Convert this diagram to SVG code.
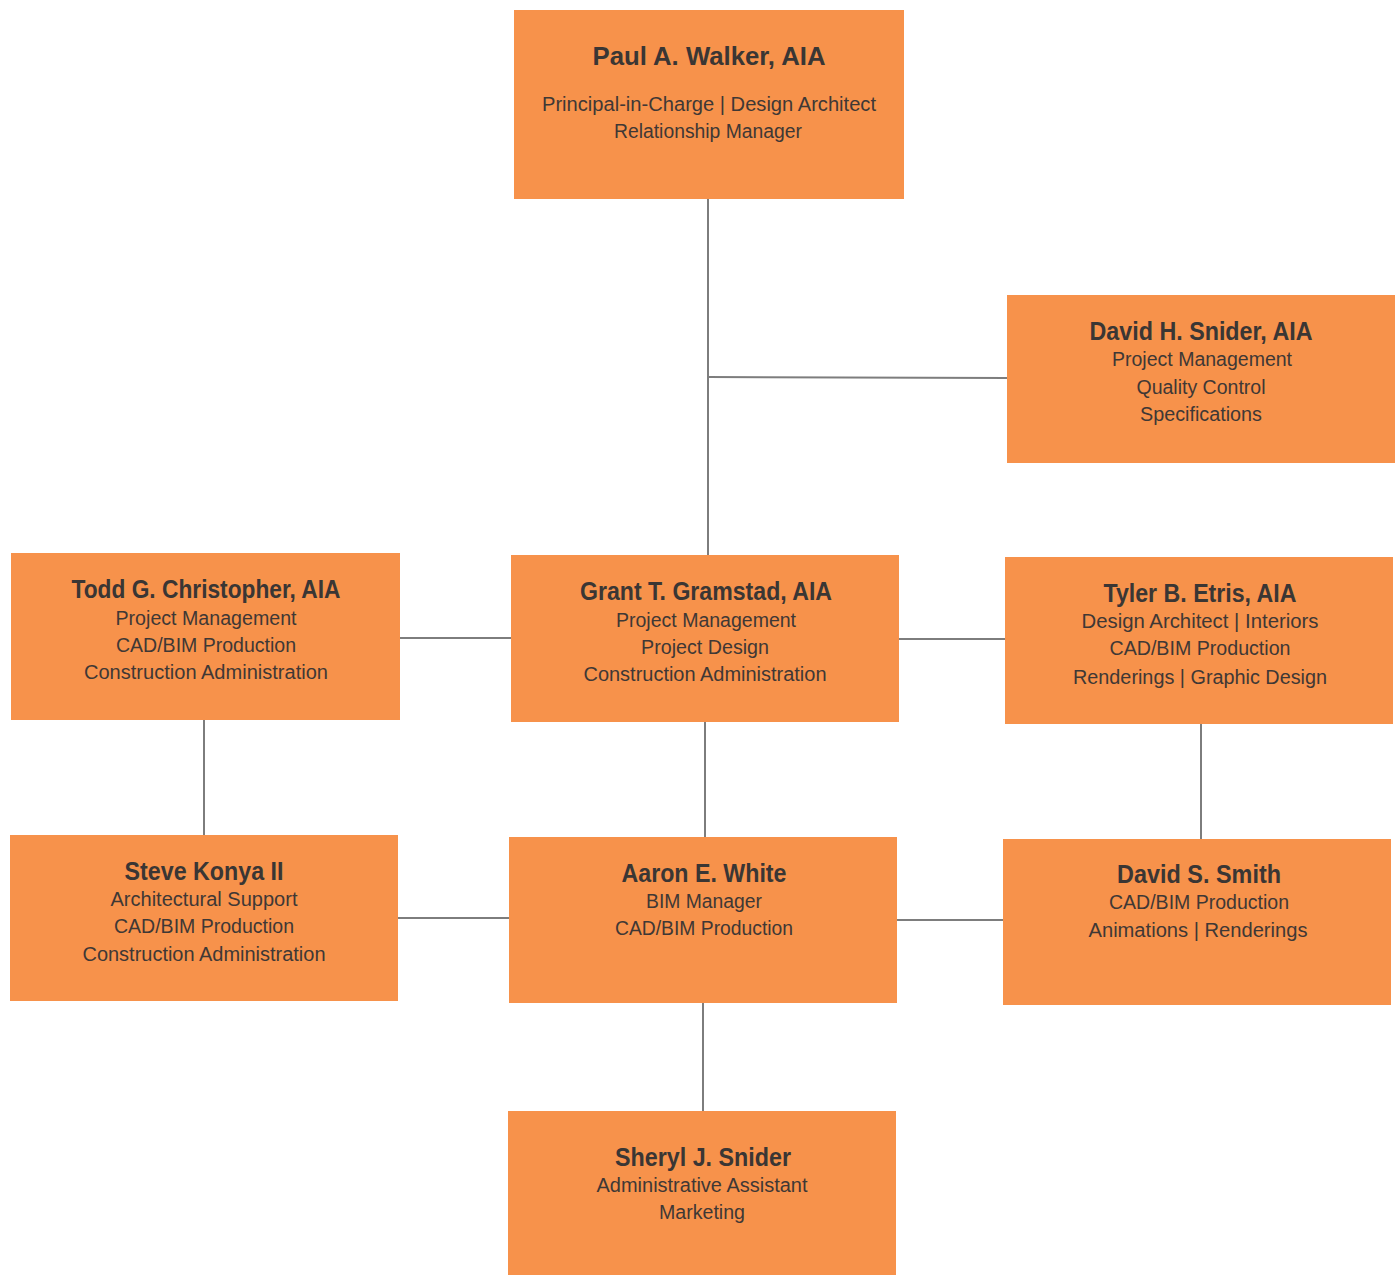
<svg xmlns="http://www.w3.org/2000/svg" width="1397" height="1275" viewBox="0 0 1397 1275">
<style>
.box{fill:#F7924B;}
.t{font-family:"Liberation Sans Narrow","Liberation Sans",Arial,sans-serif;font-weight:bold;font-size:26px;fill:#3a3634;text-anchor:middle;}
.s{font-family:"Liberation Sans Narrow","Liberation Sans",Arial,sans-serif;font-size:20px;fill:#3f3835;text-anchor:middle;}
.c{stroke:#7d7d7d;stroke-width:2;fill:none;}
</style>
<rect width="1397" height="1275" fill="#ffffff"/>
<g id="connectors">
<line class="c" x1="708" y1="199" x2="708" y2="555"/>
<line class="c" x1="708" y1="377" x2="1007" y2="378"/>
<line class="c" x1="400" y1="638" x2="511" y2="638"/>
<line class="c" x1="899" y1="639" x2="1005" y2="639"/>
<line class="c" x1="204" y1="720" x2="204" y2="835"/>
<line class="c" x1="705" y1="722" x2="705" y2="837"/>
<line class="c" x1="1201" y1="724" x2="1201" y2="839"/>
<line class="c" x1="398" y1="918" x2="509" y2="918"/>
<line class="c" x1="897" y1="920" x2="1003" y2="920"/>
<line class="c" x1="703" y1="1003" x2="703" y2="1111"/>
</g>
<g id="paul">
<rect class="box" x="514" y="10" width="390" height="189"/>
<text class="t" x="709" y="65" textLength="233" lengthAdjust="spacingAndGlyphs">Paul A. Walker, AIA</text>
<text class="s" x="709" y="111" textLength="334" lengthAdjust="spacingAndGlyphs">Principal-in-Charge | Design Architect</text>
<text class="s" x="708" y="138" textLength="188" lengthAdjust="spacingAndGlyphs">Relationship Manager</text>
</g>
<g id="david-h">
<rect class="box" x="1007" y="295" width="388" height="168"/>
<text class="t" x="1201" y="340" textLength="223" lengthAdjust="spacingAndGlyphs">David H. Snider, AIA</text>
<text class="s" x="1202" y="366" textLength="180" lengthAdjust="spacingAndGlyphs">Project Management</text>
<text class="s" x="1201" y="394" textLength="129" lengthAdjust="spacingAndGlyphs">Quality Control</text>
<text class="s" x="1201" y="421" textLength="122" lengthAdjust="spacingAndGlyphs">Specifications</text>
</g>
<g id="todd">
<rect class="box" x="11" y="553" width="389" height="167"/>
<text class="t" x="206" y="598" textLength="269" lengthAdjust="spacingAndGlyphs">Todd G. Christopher, AIA</text>
<text class="s" x="206" y="625" textLength="181" lengthAdjust="spacingAndGlyphs">Project Management</text>
<text class="s" x="206" y="652" textLength="180" lengthAdjust="spacingAndGlyphs">CAD/BIM Production</text>
<text class="s" x="206" y="679" textLength="244" lengthAdjust="spacingAndGlyphs">Construction Administration</text>
</g>
<g id="grant">
<rect class="box" x="511" y="555" width="388" height="167"/>
<text class="t" x="706" y="600" textLength="252" lengthAdjust="spacingAndGlyphs">Grant T. Gramstad, AIA</text>
<text class="s" x="706" y="627" textLength="180" lengthAdjust="spacingAndGlyphs">Project Management</text>
<text class="s" x="705" y="654" textLength="128" lengthAdjust="spacingAndGlyphs">Project Design</text>
<text class="s" x="705" y="681" textLength="243" lengthAdjust="spacingAndGlyphs">Construction Administration</text>
</g>
<g id="tyler">
<rect class="box" x="1005" y="557" width="388" height="167"/>
<text class="t" x="1200" y="602" textLength="193" lengthAdjust="spacingAndGlyphs">Tyler B. Etris, AIA</text>
<text class="s" x="1200" y="628" textLength="237" lengthAdjust="spacingAndGlyphs">Design Architect | Interiors</text>
<text class="s" x="1200" y="655" textLength="181" lengthAdjust="spacingAndGlyphs">CAD/BIM Production</text>
<text class="s" x="1200" y="684" textLength="254" lengthAdjust="spacingAndGlyphs">Renderings | Graphic Design</text>
</g>
<g id="steve">
<rect class="box" x="10" y="835" width="388" height="166"/>
<text class="t" x="204" y="880" textLength="159" lengthAdjust="spacingAndGlyphs">Steve Konya II</text>
<text class="s" x="204" y="906" textLength="187" lengthAdjust="spacingAndGlyphs">Architectural Support</text>
<text class="s" x="204" y="933" textLength="180" lengthAdjust="spacingAndGlyphs">CAD/BIM Production</text>
<text class="s" x="204" y="961" textLength="243" lengthAdjust="spacingAndGlyphs">Construction Administration</text>
</g>
<g id="aaron">
<rect class="box" x="509" y="837" width="388" height="166"/>
<text class="t" x="704" y="882" textLength="165" lengthAdjust="spacingAndGlyphs">Aaron E. White</text>
<text class="s" x="704" y="908" textLength="116" lengthAdjust="spacingAndGlyphs">BIM Manager</text>
<text class="s" x="704" y="935" textLength="178" lengthAdjust="spacingAndGlyphs">CAD/BIM Production</text>
</g>
<g id="david-s">
<rect class="box" x="1003" y="839" width="388" height="166"/>
<text class="t" x="1199" y="883" textLength="164" lengthAdjust="spacingAndGlyphs">David S. Smith</text>
<text class="s" x="1199" y="909" textLength="180" lengthAdjust="spacingAndGlyphs">CAD/BIM Production</text>
<text class="s" x="1198" y="937" textLength="219" lengthAdjust="spacingAndGlyphs">Animations | Renderings</text>
</g>
<g id="sheryl">
<rect class="box" x="508" y="1111" width="388" height="164"/>
<text class="t" x="703" y="1166" textLength="176" lengthAdjust="spacingAndGlyphs">Sheryl J. Snider</text>
<text class="s" x="702" y="1192" textLength="211" lengthAdjust="spacingAndGlyphs">Administrative Assistant</text>
<text class="s" x="702" y="1219" textLength="86" lengthAdjust="spacingAndGlyphs">Marketing</text>
</g>
</svg>
